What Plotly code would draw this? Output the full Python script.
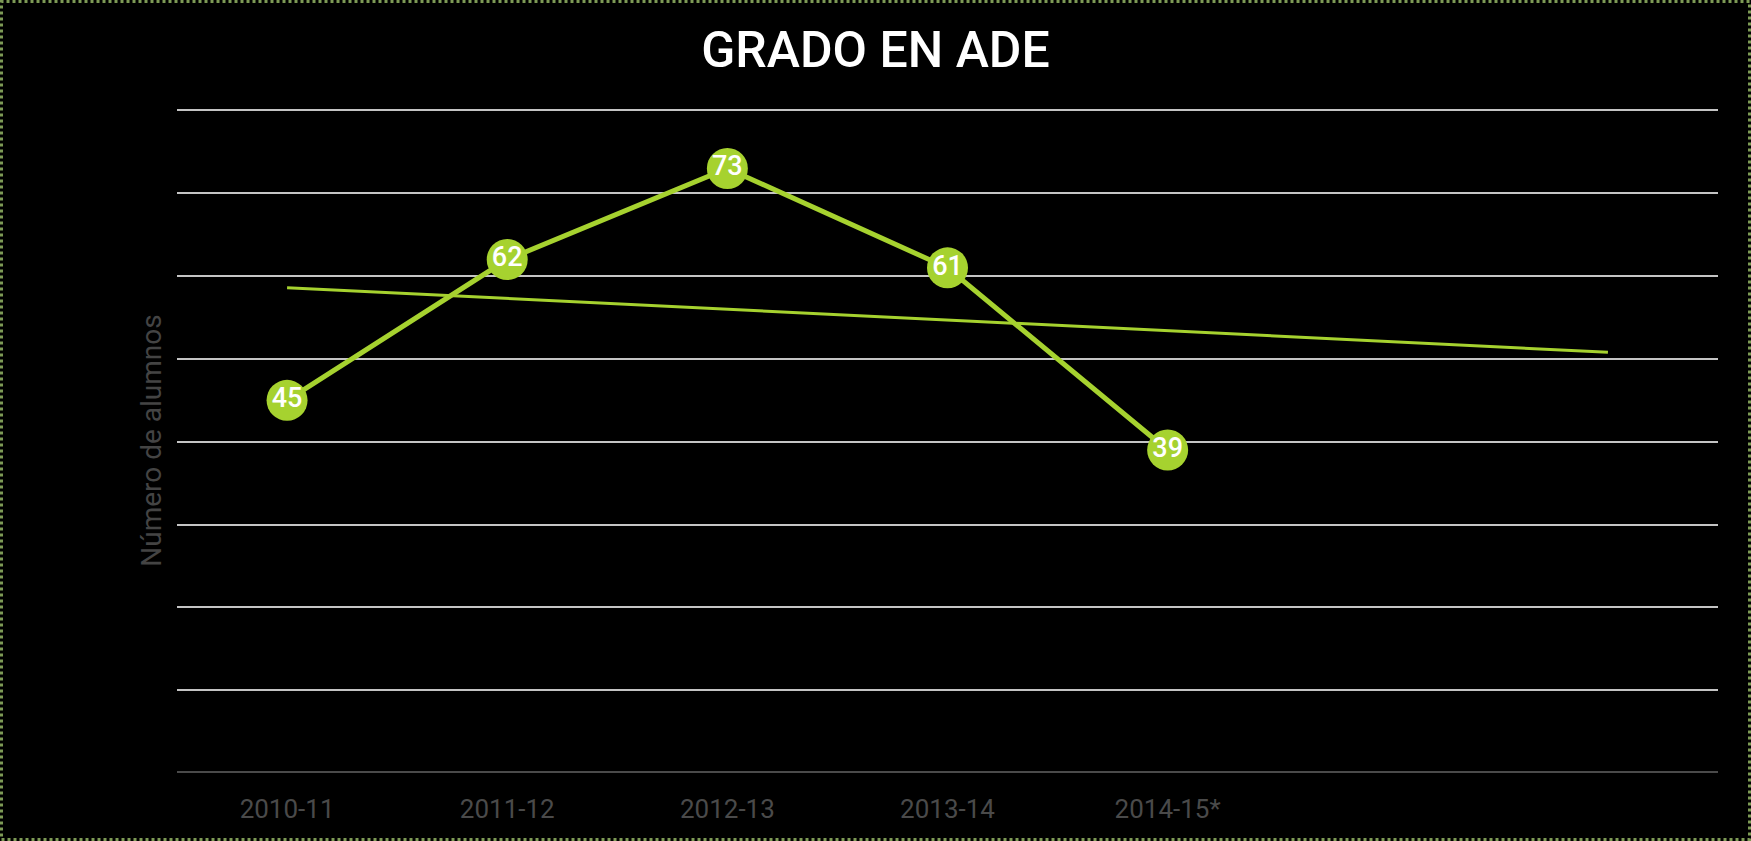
import plotly.graph_objects as go

# Data
categories = ["2010-11", "2011-12", "2012-13", "2013-14", "2014-15*"]
alumnos = [45, 62, 73, 61, 39]
# Trend line endpoints, at category positions 0 and 6
trend_pos = [0, 6]
trend_vals = [58.6, 50.8]
y_ticks = [0, 10, 20, 30, 40, 50, 60, 70, 80]

GREEN = "#a6d22f"
W, H = 1751, 841
L, R, T, B = 177, 33, 108, 68
pw = W - L - R
ph = H - T - B

x_pos = list(range(len(categories)))

fig = go.Figure()
fig.add_trace(go.Scatter(
    x=trend_pos, y=trend_vals, mode="lines",
    line=dict(color=GREEN, width=3), hoverinfo="skip", showlegend=False,
))
fig.add_trace(go.Scatter(
    x=x_pos, y=alumnos, mode="lines+markers+text",
    line=dict(color=GREEN, width=5),
    marker=dict(color=GREEN, size=41, line=dict(width=0)),
    text=[str(v) for v in alumnos], textposition="middle center",
    textfont=dict(color="white", size=27, family="Roboto, sans-serif", weight=500),
    showlegend=False,
))

fig.update_layout(
    width=W, height=H,
    paper_bgcolor="black", plot_bgcolor="black",
    margin=dict(l=L, r=R, t=T, b=B, autoexpand=False),
    title=dict(text="GRADO EN ADE", x=0.5, xanchor="center", y=1 - 49 / H, yanchor="middle",
               font=dict(color="white", size=50, family="Roboto, sans-serif", weight=500)),
    xaxis=dict(
        range=[-0.5, 6.5], tickvals=x_pos, ticktext=categories,
        showgrid=False, zeroline=False, showline=False,
        tickfont=dict(color="#4a4a4a", size=26, family="Roboto, sans-serif"),
        ticks="", ticklabelstandoff=18, fixedrange=True,
    ),
    yaxis=dict(
        range=[0, 80.3], tickvals=y_ticks, showticklabels=False,
        showgrid=True, gridcolor="#c4c4c4", gridwidth=2,
        zeroline=False, showline=False, ticks="",
        title=dict(text="Número de alumnos", standoff=6,
                   font=dict(color="#444444", size=28, family="Roboto, Liberation Sans, sans-serif")),
    ),
    shapes=[
        dict(type="line", xref="paper", yref="y", x0=0, x1=1, y0=0, y1=0,
             line=dict(color="#4a4a4a", width=4), layer="above"),
        dict(type="rect", xref="paper", yref="paper",
             x0=-(L - 1.5) / pw, x1=1 + (R - 1.5) / pw,
             y0=-(B - 1.5) / ph, y1=1 + (T - 1.5) / ph,
             line=dict(color="#7d9a55", width=3, dash="dot")),
    ],
)

fig.write_html("out.html", config={"displayModeBar": False},
               post_script="document.body.style.margin='0';document.body.style.overflow='hidden';")
